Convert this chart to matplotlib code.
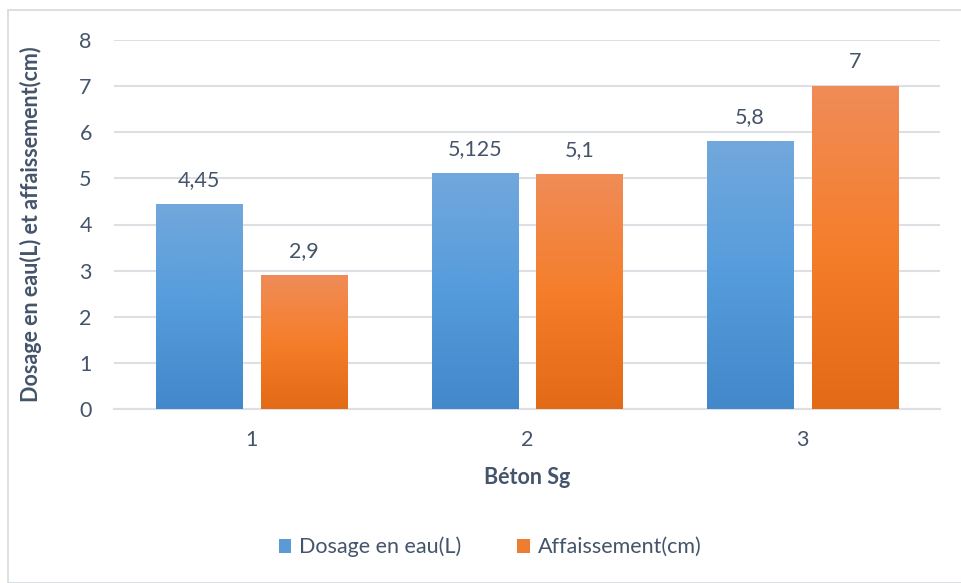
import numpy as np
import matplotlib
matplotlib.use("Agg")
import matplotlib.pyplot as plt
from matplotlib.colors import LinearSegmentedColormap
from matplotlib.patches import Rectangle, Patch

plt.rcParams['font.family'] = ['Lato', 'DejaVu Sans']

categories = ["1", "2", "3"]
dosage_eau = [4.45, 5.125, 5.8]
affaissement = [2.9, 5.1, 7.0]
dosage_labels = ["4,45", "5,125", "5,8"]
affaissement_labels = ["2,9", "5,1", "7"]
series_names = ["Dosage en eau(L)", "Affaissement(cm)"]

text_color = "#44546A"
grid_color = "#DCE0E5"
fs = 15.5

blue_grad = LinearSegmentedColormap.from_list("blue", ["#4388CA", "#559CDC", "#72A8DC"])
orange_grad = LinearSegmentedColormap.from_list("orange", ["#E36A17", "#F57E2B", "#F08C58"])

W, H = 962, 583
fig = plt.figure(figsize=(W / 100, H / 100), dpi=100)

# outer chart frame
fig.patches.append(Rectangle((8 / W, 0), 1.2, 1 - 10 / H, transform=fig.transFigure,
                             fill=False, edgecolor="#D9DDE3", linewidth=1.3, zorder=0))

ax = fig.add_axes([114 / W, 1 - 409 / H, (940 - 114) / W, (409 - 40) / H])
x = np.arange(len(categories))
width = 0.313
offset = 0.19

bars_b = ax.bar(x - offset, dosage_eau, width, color="none", zorder=3)
bars_o = ax.bar(x + offset, affaissement, width, color="none", zorder=3)

grad = np.linspace(0, 1, 256).reshape(-1, 1)
for bars, cmap in ((bars_b, blue_grad), (bars_o, orange_grad)):
    for b in bars:
        bx, by = b.get_x(), b.get_y()
        bw, bh = b.get_width(), b.get_height()
        im = ax.imshow(grad, cmap=cmap, aspect="auto", origin="lower",
                       extent=(bx, bx + bw, by, by + bh), zorder=3)
        im.set_clip_path(b)

for bars, labels in ((bars_b, dosage_labels), (bars_o, affaissement_labels)):
    for b, lab in zip(bars, labels):
        ax.annotate(lab, (b.get_x() + b.get_width() / 2, b.get_height()),
                    xytext=(0, 10), textcoords="offset points", ha="center", va="bottom",
                    fontsize=fs, color=text_color)

ax.set_xlim(-0.5, 2.5)
ax.set_ylim(0, 8)
ax.set_yticks(range(0, 9))
ax.set_xticks(x)
ax.set_xticklabels(categories)
ax.grid(axis="y", color=grid_color, linewidth=1.5, zorder=0)
ax.set_axisbelow(True)
for s in ("top", "right", "left"):
    ax.spines[s].set_visible(False)
ax.spines["bottom"].set_color(grid_color)
ax.spines["bottom"].set_linewidth(1.5)
ax.tick_params(axis="both", length=0, labelsize=fs, colors=text_color)
ax.tick_params(axis="y", pad=16)
ax.tick_params(axis="x", pad=15)

ax.set_xlabel("Béton Sg", fontsize=fs, fontweight="bold", color=text_color)
ax.xaxis.set_label_coords(0.5, -(478 - 409) / 369, transform=ax.transAxes)
ax.xaxis.label.set_va("center")
ax.set_ylabel("Dosage en eau(L) et affaissement(cm)", fontsize=fs, fontweight="bold",
              color=text_color)
ax.yaxis.set_label_coords(-(114 - 31) / 826, 0.5)
ax.yaxis.label.set_va("center")

handles = [Patch(facecolor="#5B9BD5"), Patch(facecolor="#ED7D31")]
fig.legend(handles, series_names, loc="center", bbox_to_anchor=(490 / W, 1 - 547 / H),
           ncol=2, frameon=False, fontsize=fs, labelcolor=text_color,
           handlelength=0.6, handleheight=0.6, handletextpad=0.35, columnspacing=2.6)

fig.savefig("out.png", dpi=100, facecolor="white")
